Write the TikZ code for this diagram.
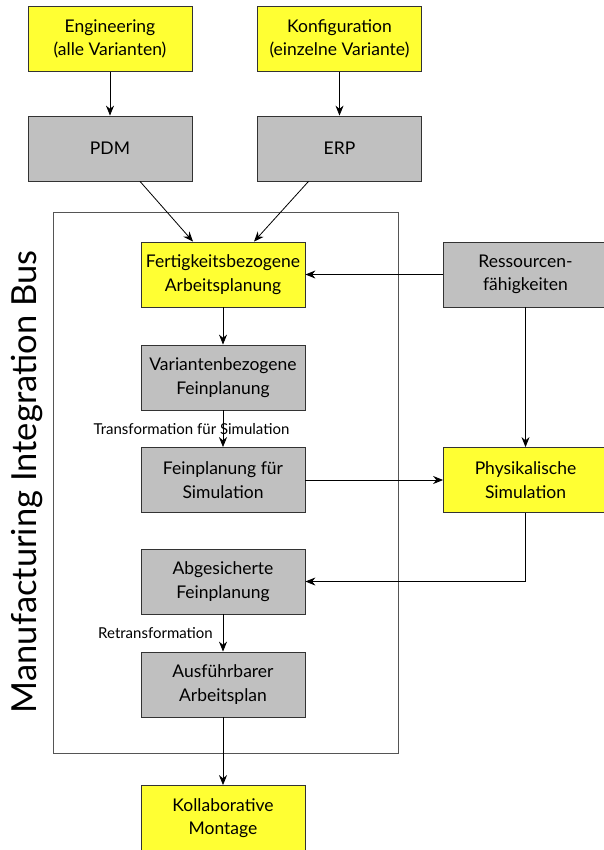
\documentclass[tikz,border=0pt]{standalone}
\usepackage{fontspec}
\setmainfont{Lato}
\usetikzlibrary{arrows.meta}
\definecolor{boxyellow}{RGB}{255,255,51}
\definecolor{boxgray}{RGB}{192,192,192}
\definecolor{framegray}{RGB}{85,85,85}
\begin{document}
\begin{tikzpicture}[x=1pt,y=-1pt,
  box/.style={draw=black!80, line width=0.8pt, minimum width=164pt, minimum height=65pt,
    align=center, inner sep=0pt, font=\fontsize{17.5}{23.5}\selectfont},
  ybox/.style={box, fill=boxyellow},
  gbox/.style={box, fill=boxgray},
  flow/.style={-{Stealth[length=10pt,width=8pt]}, line width=0.8pt},
  lbl/.style={font=\fontsize{15}{17}\selectfont, inner sep=0pt}]
\useasboundingbox (0,0) rectangle (603,850);

% bus frame and its title
\draw[framegray, line width=1pt] (53,213) rectangle (398,753);
\node[rotate=90, font=\fontsize{34.5}{40}\selectfont] (bus) at (27,482) {Manufacturing Integration Bus};

% source systems
\node[ybox] (eng)  at (110,39)    {Engineering\\(alle Varianten)};
\node[ybox] (konf) at (339.5,39)  {Konfiguration\\(einzelne Variante)};
\node[gbox] (pdm)  at (110,148.5) {PDM};
\node[gbox] (erp)  at (339.5,148.5) {ERP};

% planning chain
\node[ybox] (fert) at (223,274.5) {Fertigkeitsbezogene\\Arbeitsplanung};
\node[gbox] (var)  at (223,377.5) {Variantenbezogene\\Feinplanung};
\node[gbox] (fsim) at (223,480)   {Feinplanung für\\Simulation};
\node[gbox] (abg)  at (223,581.5) {Abgesicherte\\Feinplanung};
\node[gbox] (ausf) at (223,684.5) {Ausführbarer\\Arbeitsplan};
\node[ybox] (koll) at (223,818)   {Kollaborative\\Montage};

% resources and simulation
\node[gbox] (res)  at (525.5,274.5) {Ressourcen-\\fähigkeiten};
\node[ybox] (phys) at (525.5,480)   {Physikalische\\Simulation};

% edge labels
\node[lbl] (ltrans) at (191.5,429) {Transformation für Simulation};
\node[lbl] (lretr)  at (155.5,633) {Retransformation};

% connectors
\draw[flow] (eng) -- (pdm);
\draw[flow] (konf) -- (erp);
\draw[flow] ([xshift=30pt]pdm.south) -- ([xshift=-30pt]fert.north);
\draw[flow] ([xshift=-31pt]erp.south) -- ([xshift=31pt]fert.north);
\draw[flow] (res) -- (fert);
\draw[flow] (fert) -- (var);
\draw[flow] (var) -- (fsim);
\draw[flow] (fsim) -- (phys);
\draw[flow] (res) -- (phys);
\draw[flow] (phys.south) |- (abg.east);
\draw[flow] (abg) -- (ausf);
\draw[flow] (ausf) -- (koll);
\end{tikzpicture}
\end{document}
